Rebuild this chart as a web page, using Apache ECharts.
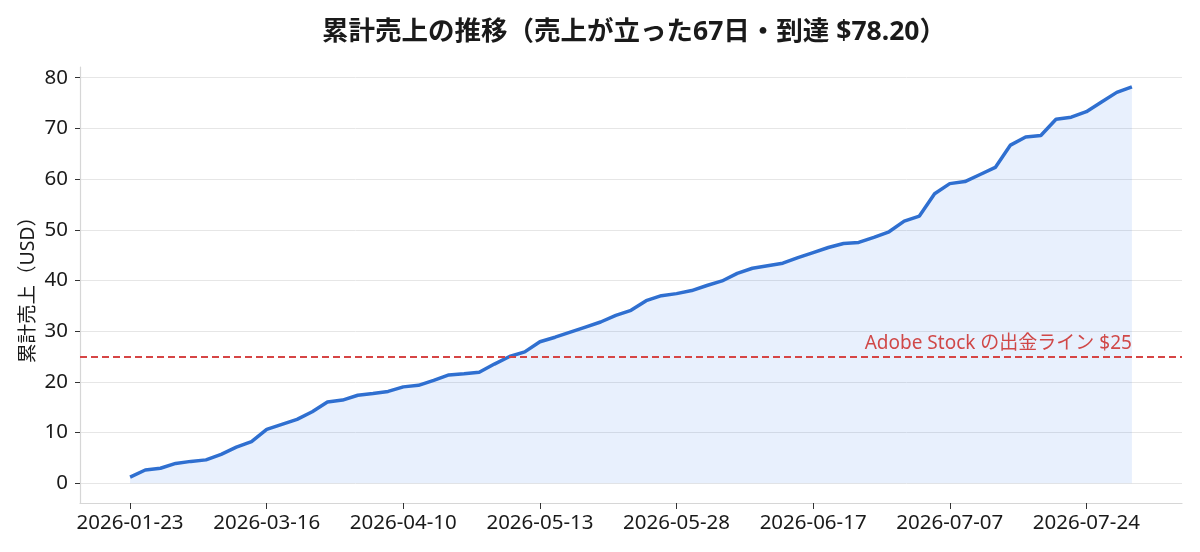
<!DOCTYPE html>
<html>
<head>
<meta charset="utf-8">
<script src="https://cdn.jsdelivr.net/npm/echarts@6/dist/echarts.min.js"></script>
<style>html,body{margin:0;padding:0;background:#fff}#c{width:1200px;height:552px}</style>
</head>
<body>
<div id="c"></div>
<script>
const cumulativeSales = [1.2, 2.6, 2.95, 3.9, 4.3, 4.6, 5.7, 7.1, 8.2, 10.6, 11.6, 12.6, 14.1, 16.0, 16.4, 17.35, 17.7, 18.1, 19.0, 19.3, 20.3, 21.35, 21.6, 21.9, 23.5, 25.0, 25.9, 27.9, 28.8, 29.8, 30.8, 31.8, 33.1, 34.1, 36.0, 37.0, 37.4, 38.0, 39.0, 39.9, 41.4, 42.4, 42.9, 43.4, 44.5, 45.5, 46.5, 47.3, 47.5, 48.5, 49.6, 51.7, 52.7, 57.1, 59.1, 59.5, 60.9, 62.3, 66.7, 68.3, 68.6, 71.8, 72.2, 73.3, 75.2, 77.1, 78.2];
const xTickIndices = [0, 9, 18, 27, 36, 45, 54, 63];
const xTickLabels = ['2026-01-23', '2026-03-16', '2026-04-10', '2026-05-13', '2026-05-28', '2026-06-17', '2026-07-07', '2026-07-24'];
const yTicks = [0, 10, 20, 30, 40, 50, 60, 70, 80];
const payoutLine = 25;
const payoutLabel = 'Adobe Stock の出金ライン $25';
const titleText = '累計売上の推移（売上が立った67日・到達 $78.20）';
const yName = '累計売上（USD）';

const FONT = '"Noto Sans", "Noto Sans CJK JP", sans-serif';
const n = cumulativeSales.length;
const lastVal = cumulativeSales[n - 1];
const xPad = (n - 1) * 0.05;
const yPad = lastVal * 0.05;

const chart = echarts.init(document.getElementById('c'), null, {renderer: 'canvas'});
chart.setOption({
  animation: false,
  backgroundColor: '#ffffff',
  title: {
    text: titleText,
    left: 629,
    textAlign: 'center',
    top: 14,
    textStyle: {fontFamily: FONT, fontSize: 26.5, fontWeight: 'bold', color: '#1a1a1a'}
  },
  grid: {left: 80, right: 18, top: 67, bottom: 49, containLabel: false},
  xAxis: {
    type: 'value',
    min: -xPad,
    max: n - 1 + xPad,
    axisLine: {show: true, onZero: false, lineStyle: {color: '#d6d6d6', width: 1.2}},
    axisTick: {show: true, length: 6, customValues: xTickIndices, lineStyle: {color: '#333', width: 1}},
    axisLabel: {
      customValues: xTickIndices,
      margin: 10,
      fontFamily: FONT, fontSize: 20.5, color: '#1a1a1a',
      formatter: function (v) { const k = xTickIndices.indexOf(Math.round(v)); return k >= 0 ? xTickLabels[k] : ''; }
    },
    splitLine: {show: false}
  },
  yAxis: {
    type: 'value',
    min: -yPad,
    max: lastVal + yPad,
    name: yName,
    nameLocation: 'middle',
    nameRotate: 90,
    nameGap: 42,
    nameMoveOverlap: false,
    nameTextStyle: {fontFamily: FONT, fontSize: 19.5, color: '#1a1a1a'},
    axisLine: {show: true, onZero: false, lineStyle: {color: '#d6d6d6', width: 1.2}},
    axisTick: {show: true, length: 5, customValues: yTicks, lineStyle: {color: '#333', width: 1}},
    axisLabel: {customValues: yTicks, margin: 12, fontFamily: FONT, fontSize: 20.5, color: '#1a1a1a'},
    splitLine: {show: true, lineStyle: {color: '#e6e6e6', width: 1}}
  },
  series: [{
    type: 'line',
    data: cumulativeSales.map((v, i) => [i, v]),
    showSymbol: false,
    smooth: false,
    lineStyle: {color: '#2f6fd0', width: 3.5},
    itemStyle: {color: '#2f6fd0'},
    areaStyle: {color: 'rgba(40,110,235,0.15)', origin: 'auto'},
    markLine: {
      silent: true,
      symbol: 'none',
      label: {show: false},
      lineStyle: {color: '#d64545', width: 2, type: [7, 4]},
      data: [{yAxis: payoutLine}]
    },
    markPoint: {
      silent: true,
      symbol: 'circle',
      symbolSize: 0,
      label: {
        show: true,
        formatter: payoutLabel,
        position: [0, 0],
        align: 'right',
        verticalAlign: 'bottom',
        offset: [0, -3],
        fontFamily: FONT, fontSize: 19, color: '#d04848'
      },
      data: [{coord: [n - 1, payoutLine]}]
    }
  }]
});
</script>
</body>
</html>
